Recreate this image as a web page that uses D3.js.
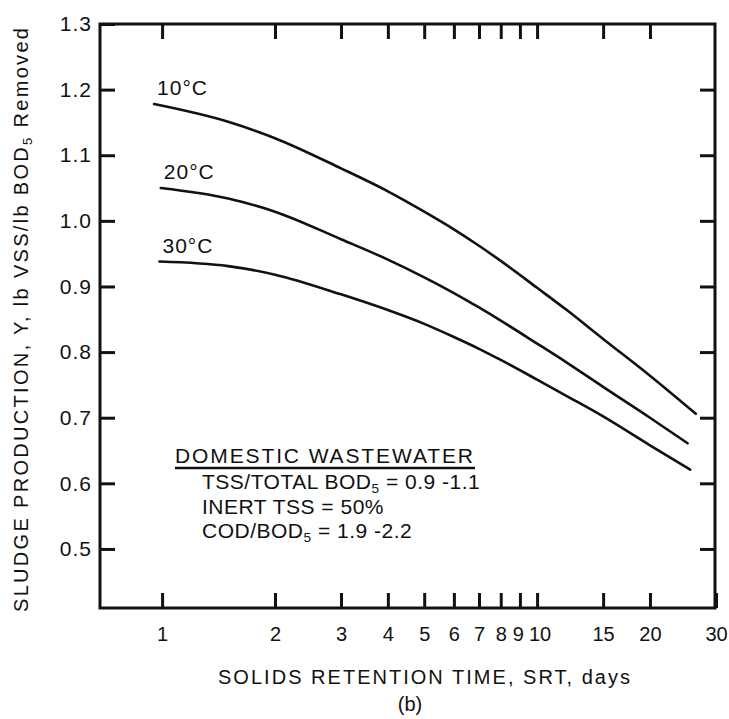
<!DOCTYPE html>
<html><head><meta charset="utf-8">
<script src="https://cdn.jsdelivr.net/npm/d3@7"></script>
<style>
html,body{margin:0;padding:0;background:#fff;}
text{font-family:"Liberation Sans",Arial,Helvetica,sans-serif;fill:#111;}
</style></head>
<body>
<svg id="chart" width="729" height="719"></svg>
<script>
// ---- data ----
const xTickValues = [1, 2, 3, 4, 5, 6, 7, 8, 9, 10, 15, 20, 30];
const xTickLabels = ["1", "2", "3", "4", "5", "6", "7", "8", "9", "10", "15", "20", "30"];
const yTickValues = [0.5, 0.6, 0.7, 0.8, 0.9, 1.0, 1.1, 1.2, 1.3];
const yTickLabels = ["0.5", "0.6", "0.7", "0.8", "0.9", "1.0", "1.1", "1.2", "1.3"];

const seriesNames = ["10°C", "20°C", "30°C"];
const srt10 = [0.952, 1.5, 2, 3, 4, 5, 6, 7, 8, 10, 12, 15, 20, 26.5];
const y10   = [1.178, 1.151, 1.126, 1.080, 1.045, 1.014, 0.987, 0.962, 0.939, 0.898, 0.864, 0.820, 0.764, 0.706];
const srt20 = [0.992, 1.5, 2, 3, 4, 5, 6, 7, 8, 10, 12, 15, 20, 25.2];
const y20   = [1.050, 1.034, 1.014, 0.972, 0.941, 0.914, 0.890, 0.868, 0.848, 0.813, 0.784, 0.747, 0.700, 0.661];
const srt30 = [0.984, 1.5, 2, 3, 4, 5, 6, 7, 8, 10, 12, 15, 20, 25.6];
const y30   = [0.938, 0.931, 0.918, 0.888, 0.864, 0.843, 0.823, 0.805, 0.788, 0.758, 0.733, 0.702, 0.658, 0.621];

const noteTitle = "DOMESTIC WASTEWATER";

// ---- layout ----
const svg = d3.select("#chart");
const L = 100, R = 715, T = 24, B = 608;
const x = d3.scaleLog().domain([0.683, 30]).range([L, R + 1]);
const y = d3.scaleLinear().domain([0.41, 1.3]).range([B, T]);

const tick = 15;
const g = svg.append("g");

// axes (inward ticks)
const ax = [
  d3.axisBottom(x).tickValues(xTickValues).tickFormat((d, i) => xTickLabels[i]).tickSize(-tick).tickSizeOuter(0).tickPadding(19),
  d3.axisTop(x).tickValues(xTickValues.slice(0, -1)).tickFormat("").tickSize(-tick).tickSizeOuter(0),
  d3.axisLeft(y).tickValues(yTickValues).tickFormat((d, i) => yTickLabels[i]).tickSize(-tick).tickSizeOuter(0).tickPadding(8),
  d3.axisRight(y).tickValues(yTickValues.slice(0, -1)).tickFormat("").tickSize(-tick).tickSizeOuter(0)
];
const pos = [[0, B], [0, T], [L, 0], [R, 0]];
ax.forEach((a, i) => {
  const ga = g.append("g").attr("transform", `translate(${pos[i][0]},${pos[i][1]})`).call(a);
  ga.select(".domain").remove();
  ga.selectAll(".tick line").attr("stroke", "#111").attr("stroke-width", 3);
  ga.selectAll(".tick text").attr("font-size", i === 0 ? 20 : 21).attr("letter-spacing", i === 0 ? 0 : 1)
    .style("font-family", '"Liberation Sans",Arial,sans-serif').attr("fill", "#111");
  if (i === 0) {
    ga.selectAll(".tick text").attr("dx", d => d === 9 ? -2 : (d === 10 ? 2.5 : 0));
  }
});

// frame
g.append("rect").attr("x", L).attr("y", T).attr("width", R - L).attr("height", B - T)
  .attr("fill", "none").attr("stroke", "#111").attr("stroke-width", 3);

// curves
const line = d3.line().x(d => x(d[0])).y(d => y(d[1])).curve(d3.curveMonotoneX);
const series = [
  {name: seriesNames[0], xs: srt10, ys: y10},
  {name: seriesNames[1], xs: srt20, ys: y20},
  {name: seriesNames[2], xs: srt30, ys: y30}
];
series.forEach(s => {
  const pts = s.xs.map((v, i) => [v, s.ys[i]]);
  g.append("path").datum(pts).attr("d", line).attr("fill", "none")
    .attr("stroke", "#111").attr("stroke-width", 2.6).attr("stroke-linecap", "round");
  g.append("text").attr("x", x(s.xs[0]) + 3).attr("y", y(s.ys[0]) - 9)
    .attr("font-size", 21).attr("letter-spacing", 1).text(s.name);
});

// annotation
const nx = 175;
g.append("text").attr("x", nx).attr("y", 463).attr("font-size", 21)
  .attr("textLength", 298).attr("lengthAdjust", "spacing").text(noteTitle);
g.append("line").attr("x1", nx).attr("x2", nx + 300).attr("y1", 468).attr("y2", 468)
  .attr("stroke", "#111").attr("stroke-width", 2.5);

function sub(t, parts, size) {
  parts.forEach(p => {
    if (p.sub) t.append("tspan").attr("font-size", size * 0.65).attr("dy", 4).text(p.t);
    else t.append("tspan").attr("dy", p.after ? -4 : 0).text(p.t);
  });
}
const t1 = g.append("text").attr("x", 202).attr("y", 489).attr("font-size", 21).attr("letter-spacing", 0.5);
sub(t1, [{t: "TSS/TOTAL BOD"}, {t: "5", sub: true}, {t: " = 0.9 -1.1", after: true}], 21);
g.append("text").attr("x", 202).attr("y", 514).attr("font-size", 21).attr("letter-spacing", 0.5).text("INERT TSS = 50%");
const t3 = g.append("text").attr("x", 202).attr("y", 538).attr("font-size", 21).attr("letter-spacing", 0.5);
sub(t3, [{t: "COD/BOD"}, {t: "5", sub: true}, {t: " = 1.9 -2.2", after: true}], 21);

// axis titles
g.append("text").attr("x", 424).attr("y", 684).attr("text-anchor", "middle").attr("font-size", 20)
  .attr("textLength", 412).attr("lengthAdjust", "spacing").text("SOLIDS RETENTION TIME, SRT, days");
g.append("text").attr("x", 410).attr("y", 711).attr("text-anchor", "middle").attr("font-size", 20).text("(b)");

const yt = g.append("text").attr("transform", "translate(28,320) rotate(-90)")
  .attr("text-anchor", "middle").attr("font-size", 20)
  .attr("textLength", 584).attr("lengthAdjust", "spacing");
yt.append("tspan").text("SLUDGE PRODUCTION, Y, lb VSS/lb BOD");
yt.append("tspan").attr("font-size", 13).attr("dy", 4).text("5");
yt.append("tspan").attr("dy", -4).text("  Removed");
</script>
</body></html>
